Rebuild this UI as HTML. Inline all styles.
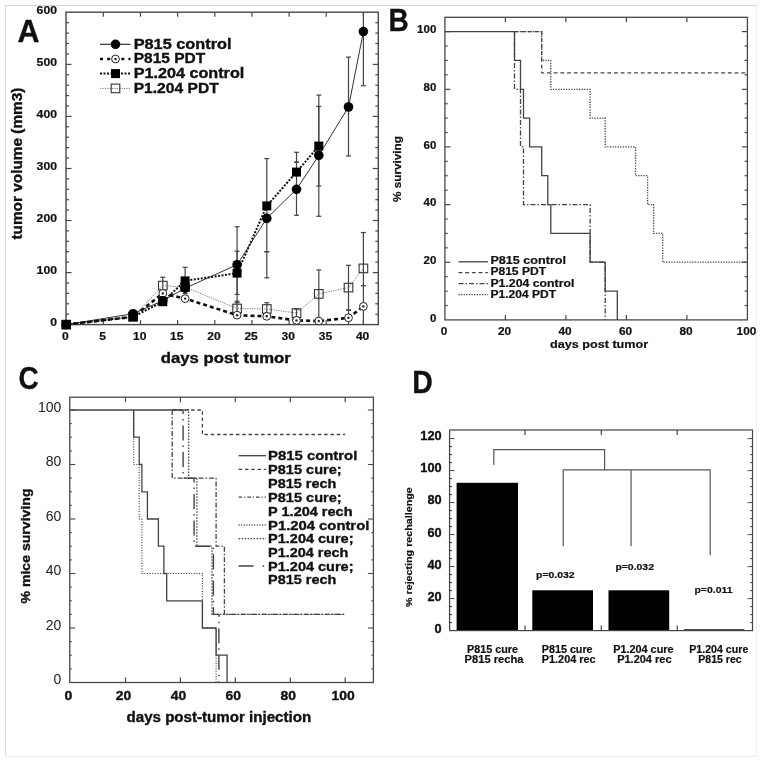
<!DOCTYPE html>
<html><head><meta charset="utf-8"><style>
html,body{margin:0;padding:0;background:#fff;}
svg{display:block;font-family:"Liberation Sans", sans-serif;filter:blur(0.35px);}
</style></head><body>
<svg width="762" height="762" viewBox="0 0 762 762">
<rect width="762" height="762" fill="#fff"/>
<line x1="5.0" y1="5.5" x2="758.0" y2="5.5" stroke="#d9d9d9" stroke-width="1" stroke-linecap="butt"/>
<line x1="5.5" y1="5.0" x2="5.5" y2="756.5" stroke="#dcdcdc" stroke-width="1" stroke-linecap="butt"/>
<line x1="756.5" y1="7.0" x2="756.5" y2="756.5" stroke="#efefef" stroke-width="1" stroke-linecap="butt"/>
<line x1="5.0" y1="756.5" x2="757.0" y2="756.5" stroke="#ececec" stroke-width="1" stroke-linecap="butt"/>
<line x1="103.3" y1="324.6" x2="103.3" y2="320.1" stroke="#484848" stroke-width="1.2" stroke-linecap="butt"/>
<line x1="103.3" y1="12.2" x2="103.3" y2="16.7" stroke="#484848" stroke-width="1.2" stroke-linecap="butt"/>
<line x1="140.5" y1="324.6" x2="140.5" y2="320.1" stroke="#484848" stroke-width="1.2" stroke-linecap="butt"/>
<line x1="140.5" y1="12.2" x2="140.5" y2="16.7" stroke="#484848" stroke-width="1.2" stroke-linecap="butt"/>
<line x1="177.6" y1="324.6" x2="177.6" y2="320.1" stroke="#484848" stroke-width="1.2" stroke-linecap="butt"/>
<line x1="177.6" y1="12.2" x2="177.6" y2="16.7" stroke="#484848" stroke-width="1.2" stroke-linecap="butt"/>
<line x1="214.8" y1="324.6" x2="214.8" y2="320.1" stroke="#484848" stroke-width="1.2" stroke-linecap="butt"/>
<line x1="214.8" y1="12.2" x2="214.8" y2="16.7" stroke="#484848" stroke-width="1.2" stroke-linecap="butt"/>
<line x1="251.9" y1="324.6" x2="251.9" y2="320.1" stroke="#484848" stroke-width="1.2" stroke-linecap="butt"/>
<line x1="251.9" y1="12.2" x2="251.9" y2="16.7" stroke="#484848" stroke-width="1.2" stroke-linecap="butt"/>
<line x1="289.1" y1="324.6" x2="289.1" y2="320.1" stroke="#484848" stroke-width="1.2" stroke-linecap="butt"/>
<line x1="289.1" y1="12.2" x2="289.1" y2="16.7" stroke="#484848" stroke-width="1.2" stroke-linecap="butt"/>
<line x1="326.2" y1="324.6" x2="326.2" y2="320.1" stroke="#484848" stroke-width="1.2" stroke-linecap="butt"/>
<line x1="326.2" y1="12.2" x2="326.2" y2="16.7" stroke="#484848" stroke-width="1.2" stroke-linecap="butt"/>
<line x1="363.4" y1="324.6" x2="363.4" y2="320.1" stroke="#484848" stroke-width="1.2" stroke-linecap="butt"/>
<line x1="363.4" y1="12.2" x2="363.4" y2="16.7" stroke="#484848" stroke-width="1.2" stroke-linecap="butt"/>
<line x1="66.0" y1="314.2" x2="69.0" y2="314.2" stroke="#484848" stroke-width="1.2" stroke-linecap="butt"/>
<line x1="378.3" y1="314.2" x2="375.3" y2="314.2" stroke="#484848" stroke-width="1.2" stroke-linecap="butt"/>
<line x1="66.0" y1="303.8" x2="69.0" y2="303.8" stroke="#484848" stroke-width="1.2" stroke-linecap="butt"/>
<line x1="378.3" y1="303.8" x2="375.3" y2="303.8" stroke="#484848" stroke-width="1.2" stroke-linecap="butt"/>
<line x1="66.0" y1="293.4" x2="69.0" y2="293.4" stroke="#484848" stroke-width="1.2" stroke-linecap="butt"/>
<line x1="378.3" y1="293.4" x2="375.3" y2="293.4" stroke="#484848" stroke-width="1.2" stroke-linecap="butt"/>
<line x1="66.0" y1="283.0" x2="69.0" y2="283.0" stroke="#484848" stroke-width="1.2" stroke-linecap="butt"/>
<line x1="378.3" y1="283.0" x2="375.3" y2="283.0" stroke="#484848" stroke-width="1.2" stroke-linecap="butt"/>
<line x1="66.0" y1="272.6" x2="71.5" y2="272.6" stroke="#484848" stroke-width="1.2" stroke-linecap="butt"/>
<line x1="378.3" y1="272.6" x2="372.8" y2="272.6" stroke="#484848" stroke-width="1.2" stroke-linecap="butt"/>
<line x1="66.0" y1="262.1" x2="69.0" y2="262.1" stroke="#484848" stroke-width="1.2" stroke-linecap="butt"/>
<line x1="378.3" y1="262.1" x2="375.3" y2="262.1" stroke="#484848" stroke-width="1.2" stroke-linecap="butt"/>
<line x1="66.0" y1="251.7" x2="69.0" y2="251.7" stroke="#484848" stroke-width="1.2" stroke-linecap="butt"/>
<line x1="378.3" y1="251.7" x2="375.3" y2="251.7" stroke="#484848" stroke-width="1.2" stroke-linecap="butt"/>
<line x1="66.0" y1="241.3" x2="69.0" y2="241.3" stroke="#484848" stroke-width="1.2" stroke-linecap="butt"/>
<line x1="378.3" y1="241.3" x2="375.3" y2="241.3" stroke="#484848" stroke-width="1.2" stroke-linecap="butt"/>
<line x1="66.0" y1="230.9" x2="69.0" y2="230.9" stroke="#484848" stroke-width="1.2" stroke-linecap="butt"/>
<line x1="378.3" y1="230.9" x2="375.3" y2="230.9" stroke="#484848" stroke-width="1.2" stroke-linecap="butt"/>
<line x1="66.0" y1="220.5" x2="71.5" y2="220.5" stroke="#484848" stroke-width="1.2" stroke-linecap="butt"/>
<line x1="378.3" y1="220.5" x2="372.8" y2="220.5" stroke="#484848" stroke-width="1.2" stroke-linecap="butt"/>
<line x1="66.0" y1="210.1" x2="69.0" y2="210.1" stroke="#484848" stroke-width="1.2" stroke-linecap="butt"/>
<line x1="378.3" y1="210.1" x2="375.3" y2="210.1" stroke="#484848" stroke-width="1.2" stroke-linecap="butt"/>
<line x1="66.0" y1="199.7" x2="69.0" y2="199.7" stroke="#484848" stroke-width="1.2" stroke-linecap="butt"/>
<line x1="378.3" y1="199.7" x2="375.3" y2="199.7" stroke="#484848" stroke-width="1.2" stroke-linecap="butt"/>
<line x1="66.0" y1="189.3" x2="69.0" y2="189.3" stroke="#484848" stroke-width="1.2" stroke-linecap="butt"/>
<line x1="378.3" y1="189.3" x2="375.3" y2="189.3" stroke="#484848" stroke-width="1.2" stroke-linecap="butt"/>
<line x1="66.0" y1="178.9" x2="69.0" y2="178.9" stroke="#484848" stroke-width="1.2" stroke-linecap="butt"/>
<line x1="378.3" y1="178.9" x2="375.3" y2="178.9" stroke="#484848" stroke-width="1.2" stroke-linecap="butt"/>
<line x1="66.0" y1="168.5" x2="71.5" y2="168.5" stroke="#484848" stroke-width="1.2" stroke-linecap="butt"/>
<line x1="378.3" y1="168.5" x2="372.8" y2="168.5" stroke="#484848" stroke-width="1.2" stroke-linecap="butt"/>
<line x1="66.0" y1="158.0" x2="69.0" y2="158.0" stroke="#484848" stroke-width="1.2" stroke-linecap="butt"/>
<line x1="378.3" y1="158.0" x2="375.3" y2="158.0" stroke="#484848" stroke-width="1.2" stroke-linecap="butt"/>
<line x1="66.0" y1="147.6" x2="69.0" y2="147.6" stroke="#484848" stroke-width="1.2" stroke-linecap="butt"/>
<line x1="378.3" y1="147.6" x2="375.3" y2="147.6" stroke="#484848" stroke-width="1.2" stroke-linecap="butt"/>
<line x1="66.0" y1="137.2" x2="69.0" y2="137.2" stroke="#484848" stroke-width="1.2" stroke-linecap="butt"/>
<line x1="378.3" y1="137.2" x2="375.3" y2="137.2" stroke="#484848" stroke-width="1.2" stroke-linecap="butt"/>
<line x1="66.0" y1="126.8" x2="69.0" y2="126.8" stroke="#484848" stroke-width="1.2" stroke-linecap="butt"/>
<line x1="378.3" y1="126.8" x2="375.3" y2="126.8" stroke="#484848" stroke-width="1.2" stroke-linecap="butt"/>
<line x1="66.0" y1="116.4" x2="71.5" y2="116.4" stroke="#484848" stroke-width="1.2" stroke-linecap="butt"/>
<line x1="378.3" y1="116.4" x2="372.8" y2="116.4" stroke="#484848" stroke-width="1.2" stroke-linecap="butt"/>
<line x1="66.0" y1="106.0" x2="69.0" y2="106.0" stroke="#484848" stroke-width="1.2" stroke-linecap="butt"/>
<line x1="378.3" y1="106.0" x2="375.3" y2="106.0" stroke="#484848" stroke-width="1.2" stroke-linecap="butt"/>
<line x1="66.0" y1="95.6" x2="69.0" y2="95.6" stroke="#484848" stroke-width="1.2" stroke-linecap="butt"/>
<line x1="378.3" y1="95.6" x2="375.3" y2="95.6" stroke="#484848" stroke-width="1.2" stroke-linecap="butt"/>
<line x1="66.0" y1="85.2" x2="69.0" y2="85.2" stroke="#484848" stroke-width="1.2" stroke-linecap="butt"/>
<line x1="378.3" y1="85.2" x2="375.3" y2="85.2" stroke="#484848" stroke-width="1.2" stroke-linecap="butt"/>
<line x1="66.0" y1="74.8" x2="69.0" y2="74.8" stroke="#484848" stroke-width="1.2" stroke-linecap="butt"/>
<line x1="378.3" y1="74.8" x2="375.3" y2="74.8" stroke="#484848" stroke-width="1.2" stroke-linecap="butt"/>
<line x1="66.0" y1="64.4" x2="71.5" y2="64.4" stroke="#484848" stroke-width="1.2" stroke-linecap="butt"/>
<line x1="378.3" y1="64.4" x2="372.8" y2="64.4" stroke="#484848" stroke-width="1.2" stroke-linecap="butt"/>
<line x1="66.0" y1="53.9" x2="69.0" y2="53.9" stroke="#484848" stroke-width="1.2" stroke-linecap="butt"/>
<line x1="378.3" y1="53.9" x2="375.3" y2="53.9" stroke="#484848" stroke-width="1.2" stroke-linecap="butt"/>
<line x1="66.0" y1="43.5" x2="69.0" y2="43.5" stroke="#484848" stroke-width="1.2" stroke-linecap="butt"/>
<line x1="378.3" y1="43.5" x2="375.3" y2="43.5" stroke="#484848" stroke-width="1.2" stroke-linecap="butt"/>
<line x1="66.0" y1="33.1" x2="69.0" y2="33.1" stroke="#484848" stroke-width="1.2" stroke-linecap="butt"/>
<line x1="378.3" y1="33.1" x2="375.3" y2="33.1" stroke="#484848" stroke-width="1.2" stroke-linecap="butt"/>
<line x1="66.0" y1="22.7" x2="69.0" y2="22.7" stroke="#484848" stroke-width="1.2" stroke-linecap="butt"/>
<line x1="378.3" y1="22.7" x2="375.3" y2="22.7" stroke="#484848" stroke-width="1.2" stroke-linecap="butt"/>
<rect x="66.0" y="12.2" width="312.3" height="312.4" fill="none" stroke="#484848" stroke-width="1.4"/>
<text x="57.0" y="326.4" font-size="10.8" font-weight="bold" text-anchor="end" fill="#111" textLength="6.8" lengthAdjust="spacingAndGlyphs" stroke="#111" stroke-width="0.2">0</text>
<text x="57.0" y="274.4" font-size="10.8" font-weight="bold" text-anchor="end" fill="#111" textLength="20.4" lengthAdjust="spacingAndGlyphs" stroke="#111" stroke-width="0.2">100</text>
<text x="57.0" y="222.3" font-size="10.8" font-weight="bold" text-anchor="end" fill="#111" textLength="20.4" lengthAdjust="spacingAndGlyphs" stroke="#111" stroke-width="0.2">200</text>
<text x="57.0" y="170.3" font-size="10.8" font-weight="bold" text-anchor="end" fill="#111" textLength="20.4" lengthAdjust="spacingAndGlyphs" stroke="#111" stroke-width="0.2">300</text>
<text x="57.0" y="118.2" font-size="10.8" font-weight="bold" text-anchor="end" fill="#111" textLength="20.4" lengthAdjust="spacingAndGlyphs" stroke="#111" stroke-width="0.2">400</text>
<text x="57.0" y="66.2" font-size="10.8" font-weight="bold" text-anchor="end" fill="#111" textLength="20.4" lengthAdjust="spacingAndGlyphs" stroke="#111" stroke-width="0.2">500</text>
<text x="57.0" y="14.1" font-size="10.8" font-weight="bold" text-anchor="end" fill="#111" textLength="20.4" lengthAdjust="spacingAndGlyphs" stroke="#111" stroke-width="0.2">600</text>
<text x="65.4" y="339.6" font-size="10.8" font-weight="bold" text-anchor="middle" fill="#111" textLength="6.7" lengthAdjust="spacingAndGlyphs" stroke="#111" stroke-width="0.2">0</text>
<text x="102.5" y="339.6" font-size="10.8" font-weight="bold" text-anchor="middle" fill="#111" textLength="6.7" lengthAdjust="spacingAndGlyphs" stroke="#111" stroke-width="0.2">5</text>
<text x="139.7" y="339.6" font-size="10.8" font-weight="bold" text-anchor="middle" fill="#111" textLength="13.4" lengthAdjust="spacingAndGlyphs" stroke="#111" stroke-width="0.2">10</text>
<text x="176.8" y="339.6" font-size="10.8" font-weight="bold" text-anchor="middle" fill="#111" textLength="13.4" lengthAdjust="spacingAndGlyphs" stroke="#111" stroke-width="0.2">15</text>
<text x="214.0" y="339.6" font-size="10.8" font-weight="bold" text-anchor="middle" fill="#111" textLength="13.4" lengthAdjust="spacingAndGlyphs" stroke="#111" stroke-width="0.2">20</text>
<text x="251.1" y="339.6" font-size="10.8" font-weight="bold" text-anchor="middle" fill="#111" textLength="13.4" lengthAdjust="spacingAndGlyphs" stroke="#111" stroke-width="0.2">25</text>
<text x="288.3" y="339.6" font-size="10.8" font-weight="bold" text-anchor="middle" fill="#111" textLength="13.4" lengthAdjust="spacingAndGlyphs" stroke="#111" stroke-width="0.2">30</text>
<text x="325.4" y="339.6" font-size="10.8" font-weight="bold" text-anchor="middle" fill="#111" textLength="13.4" lengthAdjust="spacingAndGlyphs" stroke="#111" stroke-width="0.2">35</text>
<text x="362.6" y="339.6" font-size="10.8" font-weight="bold" text-anchor="middle" fill="#111" textLength="13.4" lengthAdjust="spacingAndGlyphs" stroke="#111" stroke-width="0.2">40</text>
<text x="160.8" y="362.6" font-size="14" font-weight="bold" text-anchor="start" fill="#111" textLength="130.0" lengthAdjust="spacingAndGlyphs" stroke="#111" stroke-width="0.35">days post tumor</text>
<text x="22.0" y="239.6" font-size="14.5" font-weight="bold" text-anchor="start" fill="#111" textLength="152.0" lengthAdjust="spacingAndGlyphs" transform="rotate(-90 22.0 239.6)" stroke="#111" stroke-width="0.35">tumor volume (mm3)</text>
<text x="17.5" y="42.0" font-size="31" font-weight="bold" text-anchor="start" fill="#111" textLength="22.0" lengthAdjust="spacingAndGlyphs" stroke="#111" stroke-width="0.35">A</text>
<line x1="162.8" y1="301.2" x2="162.8" y2="277.2" stroke="#444" stroke-width="1.2" stroke-linecap="butt"/>
<line x1="160.3" y1="301.2" x2="165.3" y2="301.2" stroke="#444" stroke-width="1.2" stroke-linecap="butt"/>
<line x1="160.3" y1="277.2" x2="165.3" y2="277.2" stroke="#444" stroke-width="1.2" stroke-linecap="butt"/>
<line x1="185.1" y1="293.4" x2="185.1" y2="267.3" stroke="#444" stroke-width="1.2" stroke-linecap="butt"/>
<line x1="182.6" y1="293.4" x2="187.6" y2="293.4" stroke="#444" stroke-width="1.2" stroke-linecap="butt"/>
<line x1="182.6" y1="267.3" x2="187.6" y2="267.3" stroke="#444" stroke-width="1.2" stroke-linecap="butt"/>
<line x1="237.1" y1="302.7" x2="237.1" y2="226.7" stroke="#444" stroke-width="1.2" stroke-linecap="butt"/>
<line x1="234.6" y1="302.7" x2="239.6" y2="302.7" stroke="#444" stroke-width="1.2" stroke-linecap="butt"/>
<line x1="234.6" y1="226.7" x2="239.6" y2="226.7" stroke="#444" stroke-width="1.2" stroke-linecap="butt"/>
<line x1="237.1" y1="294.4" x2="237.1" y2="251.2" stroke="#444" stroke-width="1.2" stroke-linecap="butt"/>
<line x1="234.6" y1="294.4" x2="239.6" y2="294.4" stroke="#444" stroke-width="1.2" stroke-linecap="butt"/>
<line x1="234.6" y1="251.2" x2="239.6" y2="251.2" stroke="#444" stroke-width="1.2" stroke-linecap="butt"/>
<line x1="266.8" y1="277.8" x2="266.8" y2="158.6" stroke="#444" stroke-width="1.2" stroke-linecap="butt"/>
<line x1="264.3" y1="277.8" x2="269.3" y2="277.8" stroke="#444" stroke-width="1.2" stroke-linecap="butt"/>
<line x1="264.3" y1="158.6" x2="269.3" y2="158.6" stroke="#444" stroke-width="1.2" stroke-linecap="butt"/>
<line x1="266.8" y1="251.7" x2="266.8" y2="251.7" stroke="#444" stroke-width="1.2" stroke-linecap="butt"/>
<line x1="264.3" y1="251.7" x2="269.3" y2="251.7" stroke="#444" stroke-width="1.2" stroke-linecap="butt"/>
<line x1="264.3" y1="251.7" x2="269.3" y2="251.7" stroke="#444" stroke-width="1.2" stroke-linecap="butt"/>
<line x1="296.5" y1="215.3" x2="296.5" y2="152.3" stroke="#444" stroke-width="1.2" stroke-linecap="butt"/>
<line x1="294.0" y1="215.3" x2="299.0" y2="215.3" stroke="#444" stroke-width="1.2" stroke-linecap="butt"/>
<line x1="294.0" y1="152.3" x2="299.0" y2="152.3" stroke="#444" stroke-width="1.2" stroke-linecap="butt"/>
<line x1="296.5" y1="162.2" x2="296.5" y2="162.2" stroke="#444" stroke-width="1.2" stroke-linecap="butt"/>
<line x1="294.0" y1="162.2" x2="299.0" y2="162.2" stroke="#444" stroke-width="1.2" stroke-linecap="butt"/>
<line x1="294.0" y1="162.2" x2="299.0" y2="162.2" stroke="#444" stroke-width="1.2" stroke-linecap="butt"/>
<line x1="318.8" y1="216.3" x2="318.8" y2="95.1" stroke="#444" stroke-width="1.2" stroke-linecap="butt"/>
<line x1="316.3" y1="216.3" x2="321.3" y2="216.3" stroke="#444" stroke-width="1.2" stroke-linecap="butt"/>
<line x1="316.3" y1="95.1" x2="321.3" y2="95.1" stroke="#444" stroke-width="1.2" stroke-linecap="butt"/>
<line x1="318.8" y1="186.1" x2="318.8" y2="106.5" stroke="#444" stroke-width="1.2" stroke-linecap="butt"/>
<line x1="316.3" y1="186.1" x2="321.3" y2="186.1" stroke="#444" stroke-width="1.2" stroke-linecap="butt"/>
<line x1="316.3" y1="106.5" x2="321.3" y2="106.5" stroke="#444" stroke-width="1.2" stroke-linecap="butt"/>
<line x1="348.5" y1="156.0" x2="348.5" y2="57.1" stroke="#444" stroke-width="1.2" stroke-linecap="butt"/>
<line x1="346.0" y1="156.0" x2="351.0" y2="156.0" stroke="#444" stroke-width="1.2" stroke-linecap="butt"/>
<line x1="346.0" y1="57.1" x2="351.0" y2="57.1" stroke="#444" stroke-width="1.2" stroke-linecap="butt"/>
<line x1="363.4" y1="85.7" x2="363.4" y2="12.2" stroke="#444" stroke-width="1.2" stroke-linecap="butt"/>
<line x1="360.9" y1="85.7" x2="365.9" y2="85.7" stroke="#444" stroke-width="1.2" stroke-linecap="butt"/>
<line x1="318.8" y1="324.6" x2="318.8" y2="269.9" stroke="#444" stroke-width="1.2" stroke-linecap="butt"/>
<line x1="316.3" y1="269.9" x2="321.3" y2="269.9" stroke="#444" stroke-width="1.2" stroke-linecap="butt"/>
<line x1="348.5" y1="324.6" x2="348.5" y2="265.3" stroke="#444" stroke-width="1.2" stroke-linecap="butt"/>
<line x1="346.0" y1="265.3" x2="351.0" y2="265.3" stroke="#444" stroke-width="1.2" stroke-linecap="butt"/>
<line x1="363.4" y1="324.6" x2="363.4" y2="232.5" stroke="#444" stroke-width="1.2" stroke-linecap="butt"/>
<line x1="360.9" y1="232.5" x2="365.9" y2="232.5" stroke="#444" stroke-width="1.2" stroke-linecap="butt"/>
<line x1="363.4" y1="285.6" x2="363.4" y2="285.6" stroke="#444" stroke-width="1.2" stroke-linecap="butt"/>
<line x1="360.9" y1="285.6" x2="365.9" y2="285.6" stroke="#444" stroke-width="1.2" stroke-linecap="butt"/>
<line x1="360.9" y1="285.6" x2="365.9" y2="285.6" stroke="#444" stroke-width="1.2" stroke-linecap="butt"/>
<line x1="348.5" y1="310.0" x2="348.5" y2="310.0" stroke="#444" stroke-width="1.2" stroke-linecap="butt"/>
<line x1="346.0" y1="310.0" x2="351.0" y2="310.0" stroke="#444" stroke-width="1.2" stroke-linecap="butt"/>
<line x1="346.0" y1="310.0" x2="351.0" y2="310.0" stroke="#444" stroke-width="1.2" stroke-linecap="butt"/>
<line x1="237.1" y1="314.2" x2="237.1" y2="301.2" stroke="#444" stroke-width="1.2" stroke-linecap="butt"/>
<line x1="234.6" y1="314.2" x2="239.6" y2="314.2" stroke="#444" stroke-width="1.2" stroke-linecap="butt"/>
<line x1="234.6" y1="301.2" x2="239.6" y2="301.2" stroke="#444" stroke-width="1.2" stroke-linecap="butt"/>
<line x1="266.8" y1="314.2" x2="266.8" y2="302.7" stroke="#444" stroke-width="1.2" stroke-linecap="butt"/>
<line x1="264.3" y1="314.2" x2="269.3" y2="314.2" stroke="#444" stroke-width="1.2" stroke-linecap="butt"/>
<line x1="264.3" y1="302.7" x2="269.3" y2="302.7" stroke="#444" stroke-width="1.2" stroke-linecap="butt"/>
<line x1="296.5" y1="318.4" x2="296.5" y2="309.0" stroke="#444" stroke-width="1.2" stroke-linecap="butt"/>
<line x1="294.0" y1="318.4" x2="299.0" y2="318.4" stroke="#444" stroke-width="1.2" stroke-linecap="butt"/>
<line x1="294.0" y1="309.0" x2="299.0" y2="309.0" stroke="#444" stroke-width="1.2" stroke-linecap="butt"/>
<polyline points="66.2,324.6 133.1,316.8 162.8,285.6 185.1,287.1 237.1,308.5 266.8,309.0 296.5,313.1 318.8,293.9 348.5,287.6 363.4,268.4" fill="none" stroke="#777" stroke-width="1" stroke-dasharray="1.2,1.2"/>
<polyline points="66.2,324.6 133.1,313.7 162.8,300.7 185.1,288.2 237.1,264.7 266.8,218.4 296.5,189.3 318.8,155.4 348.5,107.0 363.4,31.6" fill="none" stroke="#333" stroke-width="1"/>
<polyline points="66.2,324.6 133.1,316.8 162.8,293.4 185.1,298.6 237.1,315.2 266.8,316.3 296.5,320.4 318.8,321.0 348.5,317.8 363.4,306.4" fill="none" stroke="#111" stroke-width="2.6" stroke-dasharray="4,3"/>
<polyline points="66.2,324.6 133.1,316.8 162.8,301.7 185.1,280.9 237.1,273.1 266.8,205.9 296.5,172.1 318.8,146.1" fill="none" stroke="#111" stroke-width="2.0" stroke-dasharray="2,1.5"/>
<rect x="61.9" y="320.3" width="8.6" height="8.6" fill="none" stroke="#333" stroke-width="1.1"/>
<rect x="128.8" y="312.5" width="8.6" height="8.6" fill="none" stroke="#333" stroke-width="1.1"/>
<rect x="158.5" y="281.3" width="8.6" height="8.6" fill="none" stroke="#333" stroke-width="1.1"/>
<rect x="180.8" y="282.8" width="8.6" height="8.6" fill="none" stroke="#333" stroke-width="1.1"/>
<rect x="232.8" y="304.2" width="8.6" height="8.6" fill="none" stroke="#333" stroke-width="1.1"/>
<rect x="262.5" y="304.7" width="8.6" height="8.6" fill="none" stroke="#333" stroke-width="1.1"/>
<rect x="292.2" y="308.8" width="8.6" height="8.6" fill="none" stroke="#333" stroke-width="1.1"/>
<rect x="314.5" y="289.6" width="8.6" height="8.6" fill="none" stroke="#333" stroke-width="1.1"/>
<rect x="344.2" y="283.3" width="8.6" height="8.6" fill="none" stroke="#333" stroke-width="1.1"/>
<rect x="359.1" y="264.1" width="8.6" height="8.6" fill="none" stroke="#333" stroke-width="1.1"/>
<circle cx="66.2" cy="324.6" r="3.9" fill="#fff" stroke="#222" stroke-width="1"/>
<circle cx="66.2" cy="324.6" r="1.2" fill="#222"/>
<circle cx="133.1" cy="316.8" r="3.9" fill="#fff" stroke="#222" stroke-width="1"/>
<circle cx="133.1" cy="316.8" r="1.2" fill="#222"/>
<circle cx="162.8" cy="293.4" r="3.9" fill="#fff" stroke="#222" stroke-width="1"/>
<circle cx="162.8" cy="293.4" r="1.2" fill="#222"/>
<circle cx="185.1" cy="298.6" r="3.9" fill="#fff" stroke="#222" stroke-width="1"/>
<circle cx="185.1" cy="298.6" r="1.2" fill="#222"/>
<circle cx="237.1" cy="315.2" r="3.9" fill="#fff" stroke="#222" stroke-width="1"/>
<circle cx="237.1" cy="315.2" r="1.2" fill="#222"/>
<circle cx="266.8" cy="316.3" r="3.9" fill="#fff" stroke="#222" stroke-width="1"/>
<circle cx="266.8" cy="316.3" r="1.2" fill="#222"/>
<circle cx="296.5" cy="320.4" r="3.9" fill="#fff" stroke="#222" stroke-width="1"/>
<circle cx="296.5" cy="320.4" r="1.2" fill="#222"/>
<circle cx="318.8" cy="321.0" r="3.9" fill="#fff" stroke="#222" stroke-width="1"/>
<circle cx="318.8" cy="321.0" r="1.2" fill="#222"/>
<circle cx="348.5" cy="317.8" r="3.9" fill="#fff" stroke="#222" stroke-width="1"/>
<circle cx="348.5" cy="317.8" r="1.2" fill="#222"/>
<circle cx="363.4" cy="306.4" r="3.9" fill="#fff" stroke="#222" stroke-width="1"/>
<circle cx="363.4" cy="306.4" r="1.2" fill="#222"/>
<rect x="61.7" y="320.1" width="9.0" height="9.0" fill="#000" stroke="none" stroke-width="1"/>
<rect x="128.6" y="312.3" width="9.0" height="9.0" fill="#000" stroke="none" stroke-width="1"/>
<rect x="158.3" y="297.2" width="9.0" height="9.0" fill="#000" stroke="none" stroke-width="1"/>
<rect x="180.6" y="276.4" width="9.0" height="9.0" fill="#000" stroke="none" stroke-width="1"/>
<rect x="232.6" y="268.6" width="9.0" height="9.0" fill="#000" stroke="none" stroke-width="1"/>
<rect x="262.3" y="201.4" width="9.0" height="9.0" fill="#000" stroke="none" stroke-width="1"/>
<rect x="292.0" y="167.6" width="9.0" height="9.0" fill="#000" stroke="none" stroke-width="1"/>
<rect x="314.3" y="141.6" width="9.0" height="9.0" fill="#000" stroke="none" stroke-width="1"/>
<circle cx="66.2" cy="324.6" r="4.8" fill="#000"/>
<circle cx="133.1" cy="313.7" r="4.8" fill="#000"/>
<circle cx="162.8" cy="300.7" r="4.8" fill="#000"/>
<circle cx="185.1" cy="288.2" r="4.8" fill="#000"/>
<circle cx="237.1" cy="264.7" r="4.8" fill="#000"/>
<circle cx="266.8" cy="218.4" r="4.8" fill="#000"/>
<circle cx="296.5" cy="189.3" r="4.8" fill="#000"/>
<circle cx="318.8" cy="155.4" r="4.8" fill="#000"/>
<circle cx="348.5" cy="107.0" r="4.8" fill="#000"/>
<circle cx="363.4" cy="31.6" r="4.8" fill="#000"/>
<line x1="100.0" y1="44.3" x2="130.5" y2="44.3" stroke="#222" stroke-width="1.1" stroke-linecap="butt"/>
<circle cx="115.5" cy="44.3" r="4.8" fill="#000"/>
<line x1="100.0" y1="59.0" x2="130.5" y2="59.0" stroke="#111" stroke-width="2.5" stroke-dasharray="3,4.1" stroke-linecap="butt"/>
<circle cx="115.5" cy="59.0" r="3.9" fill="#fff" stroke="#222" stroke-width="1"/>
<circle cx="115.5" cy="59.0" r="1.2" fill="#222"/>
<line x1="100.0" y1="73.6" x2="130.5" y2="73.6" stroke="#111" stroke-width="2.0" stroke-dasharray="2,1.5" stroke-linecap="butt"/>
<rect x="111.0" y="69.1" width="9.0" height="9.0" fill="#000" stroke="none" stroke-width="1"/>
<line x1="100.0" y1="88.4" x2="130.5" y2="88.4" stroke="#777" stroke-width="1" stroke-dasharray="1.2,1.2" stroke-linecap="butt"/>
<rect x="111.2" y="84.1" width="8.6" height="8.6" fill="none" stroke="#333" stroke-width="1.1"/>
<text x="133.7" y="49.0" font-size="14" font-weight="bold" text-anchor="start" fill="#111" textLength="97.8" lengthAdjust="spacingAndGlyphs" stroke="#111" stroke-width="0.35">P815 control</text>
<text x="133.7" y="63.4" font-size="14" font-weight="bold" text-anchor="start" fill="#111" textLength="71.6" lengthAdjust="spacingAndGlyphs" stroke="#111" stroke-width="0.35">P815 PDT</text>
<text x="133.7" y="78.0" font-size="14" font-weight="bold" text-anchor="start" fill="#111" textLength="110.6" lengthAdjust="spacingAndGlyphs" stroke="#111" stroke-width="0.35">P1.204 control</text>
<text x="133.7" y="93.2" font-size="14" font-weight="bold" text-anchor="start" fill="#111" textLength="85.0" lengthAdjust="spacingAndGlyphs" stroke="#111" stroke-width="0.35">P1.204 PDT</text>
<line x1="505.4" y1="319.9" x2="505.4" y2="314.9" stroke="#484848" stroke-width="1.2" stroke-linecap="butt"/>
<line x1="505.4" y1="17.3" x2="505.4" y2="22.3" stroke="#484848" stroke-width="1.2" stroke-linecap="butt"/>
<line x1="565.9" y1="319.9" x2="565.9" y2="314.9" stroke="#484848" stroke-width="1.2" stroke-linecap="butt"/>
<line x1="565.9" y1="17.3" x2="565.9" y2="22.3" stroke="#484848" stroke-width="1.2" stroke-linecap="butt"/>
<line x1="626.4" y1="319.9" x2="626.4" y2="314.9" stroke="#484848" stroke-width="1.2" stroke-linecap="butt"/>
<line x1="626.4" y1="17.3" x2="626.4" y2="22.3" stroke="#484848" stroke-width="1.2" stroke-linecap="butt"/>
<line x1="686.9" y1="319.9" x2="686.9" y2="314.9" stroke="#484848" stroke-width="1.2" stroke-linecap="butt"/>
<line x1="686.9" y1="17.3" x2="686.9" y2="22.3" stroke="#484848" stroke-width="1.2" stroke-linecap="butt"/>
<line x1="444.9" y1="305.5" x2="447.7" y2="305.5" stroke="#484848" stroke-width="1.2" stroke-linecap="butt"/>
<line x1="747.4" y1="305.5" x2="744.6" y2="305.5" stroke="#484848" stroke-width="1.2" stroke-linecap="butt"/>
<line x1="444.9" y1="291.1" x2="447.7" y2="291.1" stroke="#484848" stroke-width="1.2" stroke-linecap="butt"/>
<line x1="747.4" y1="291.1" x2="744.6" y2="291.1" stroke="#484848" stroke-width="1.2" stroke-linecap="butt"/>
<line x1="444.9" y1="276.7" x2="447.7" y2="276.7" stroke="#484848" stroke-width="1.2" stroke-linecap="butt"/>
<line x1="747.4" y1="276.7" x2="744.6" y2="276.7" stroke="#484848" stroke-width="1.2" stroke-linecap="butt"/>
<line x1="444.9" y1="262.2" x2="450.4" y2="262.2" stroke="#484848" stroke-width="1.2" stroke-linecap="butt"/>
<line x1="747.4" y1="262.2" x2="741.9" y2="262.2" stroke="#484848" stroke-width="1.2" stroke-linecap="butt"/>
<line x1="444.9" y1="247.8" x2="447.7" y2="247.8" stroke="#484848" stroke-width="1.2" stroke-linecap="butt"/>
<line x1="747.4" y1="247.8" x2="744.6" y2="247.8" stroke="#484848" stroke-width="1.2" stroke-linecap="butt"/>
<line x1="444.9" y1="233.4" x2="447.7" y2="233.4" stroke="#484848" stroke-width="1.2" stroke-linecap="butt"/>
<line x1="747.4" y1="233.4" x2="744.6" y2="233.4" stroke="#484848" stroke-width="1.2" stroke-linecap="butt"/>
<line x1="444.9" y1="219.0" x2="447.7" y2="219.0" stroke="#484848" stroke-width="1.2" stroke-linecap="butt"/>
<line x1="747.4" y1="219.0" x2="744.6" y2="219.0" stroke="#484848" stroke-width="1.2" stroke-linecap="butt"/>
<line x1="444.9" y1="204.6" x2="450.4" y2="204.6" stroke="#484848" stroke-width="1.2" stroke-linecap="butt"/>
<line x1="747.4" y1="204.6" x2="741.9" y2="204.6" stroke="#484848" stroke-width="1.2" stroke-linecap="butt"/>
<line x1="444.9" y1="190.2" x2="447.7" y2="190.2" stroke="#484848" stroke-width="1.2" stroke-linecap="butt"/>
<line x1="747.4" y1="190.2" x2="744.6" y2="190.2" stroke="#484848" stroke-width="1.2" stroke-linecap="butt"/>
<line x1="444.9" y1="175.7" x2="447.7" y2="175.7" stroke="#484848" stroke-width="1.2" stroke-linecap="butt"/>
<line x1="747.4" y1="175.7" x2="744.6" y2="175.7" stroke="#484848" stroke-width="1.2" stroke-linecap="butt"/>
<line x1="444.9" y1="161.3" x2="447.7" y2="161.3" stroke="#484848" stroke-width="1.2" stroke-linecap="butt"/>
<line x1="747.4" y1="161.3" x2="744.6" y2="161.3" stroke="#484848" stroke-width="1.2" stroke-linecap="butt"/>
<line x1="444.9" y1="146.9" x2="450.4" y2="146.9" stroke="#484848" stroke-width="1.2" stroke-linecap="butt"/>
<line x1="747.4" y1="146.9" x2="741.9" y2="146.9" stroke="#484848" stroke-width="1.2" stroke-linecap="butt"/>
<line x1="444.9" y1="132.5" x2="447.7" y2="132.5" stroke="#484848" stroke-width="1.2" stroke-linecap="butt"/>
<line x1="747.4" y1="132.5" x2="744.6" y2="132.5" stroke="#484848" stroke-width="1.2" stroke-linecap="butt"/>
<line x1="444.9" y1="118.1" x2="447.7" y2="118.1" stroke="#484848" stroke-width="1.2" stroke-linecap="butt"/>
<line x1="747.4" y1="118.1" x2="744.6" y2="118.1" stroke="#484848" stroke-width="1.2" stroke-linecap="butt"/>
<line x1="444.9" y1="103.7" x2="447.7" y2="103.7" stroke="#484848" stroke-width="1.2" stroke-linecap="butt"/>
<line x1="747.4" y1="103.7" x2="744.6" y2="103.7" stroke="#484848" stroke-width="1.2" stroke-linecap="butt"/>
<line x1="444.9" y1="89.3" x2="450.4" y2="89.3" stroke="#484848" stroke-width="1.2" stroke-linecap="butt"/>
<line x1="747.4" y1="89.3" x2="741.9" y2="89.3" stroke="#484848" stroke-width="1.2" stroke-linecap="butt"/>
<line x1="444.9" y1="74.8" x2="447.7" y2="74.8" stroke="#484848" stroke-width="1.2" stroke-linecap="butt"/>
<line x1="747.4" y1="74.8" x2="744.6" y2="74.8" stroke="#484848" stroke-width="1.2" stroke-linecap="butt"/>
<line x1="444.9" y1="60.4" x2="447.7" y2="60.4" stroke="#484848" stroke-width="1.2" stroke-linecap="butt"/>
<line x1="747.4" y1="60.4" x2="744.6" y2="60.4" stroke="#484848" stroke-width="1.2" stroke-linecap="butt"/>
<line x1="444.9" y1="46.0" x2="447.7" y2="46.0" stroke="#484848" stroke-width="1.2" stroke-linecap="butt"/>
<line x1="747.4" y1="46.0" x2="744.6" y2="46.0" stroke="#484848" stroke-width="1.2" stroke-linecap="butt"/>
<line x1="444.9" y1="31.6" x2="450.4" y2="31.6" stroke="#484848" stroke-width="1.2" stroke-linecap="butt"/>
<line x1="747.4" y1="31.6" x2="741.9" y2="31.6" stroke="#484848" stroke-width="1.2" stroke-linecap="butt"/>
<rect x="444.9" y="17.3" width="302.5" height="302.6" fill="none" stroke="#484848" stroke-width="1.3"/>
<text x="436.3" y="321.7" font-size="10.6" font-weight="bold" text-anchor="end" fill="#111" textLength="6.4" lengthAdjust="spacingAndGlyphs" stroke="#111" stroke-width="0.2">0</text>
<text x="436.3" y="264.0" font-size="10.6" font-weight="bold" text-anchor="end" fill="#111" textLength="12.8" lengthAdjust="spacingAndGlyphs" stroke="#111" stroke-width="0.2">20</text>
<text x="436.3" y="206.4" font-size="10.6" font-weight="bold" text-anchor="end" fill="#111" textLength="12.8" lengthAdjust="spacingAndGlyphs" stroke="#111" stroke-width="0.2">40</text>
<text x="436.3" y="148.7" font-size="10.6" font-weight="bold" text-anchor="end" fill="#111" textLength="12.8" lengthAdjust="spacingAndGlyphs" stroke="#111" stroke-width="0.2">60</text>
<text x="436.3" y="91.1" font-size="10.6" font-weight="bold" text-anchor="end" fill="#111" textLength="12.8" lengthAdjust="spacingAndGlyphs" stroke="#111" stroke-width="0.2">80</text>
<text x="436.3" y="33.4" font-size="10.6" font-weight="bold" text-anchor="end" fill="#111" textLength="19.2" lengthAdjust="spacingAndGlyphs" stroke="#111" stroke-width="0.2">100</text>
<text x="444.0" y="334.5" font-size="10.8" font-weight="bold" text-anchor="middle" fill="#111" textLength="6.6" lengthAdjust="spacingAndGlyphs" stroke="#111" stroke-width="0.2">0</text>
<text x="504.5" y="334.5" font-size="10.8" font-weight="bold" text-anchor="middle" fill="#111" textLength="13.2" lengthAdjust="spacingAndGlyphs" stroke="#111" stroke-width="0.2">20</text>
<text x="565.0" y="334.5" font-size="10.8" font-weight="bold" text-anchor="middle" fill="#111" textLength="13.2" lengthAdjust="spacingAndGlyphs" stroke="#111" stroke-width="0.2">40</text>
<text x="625.5" y="334.5" font-size="10.8" font-weight="bold" text-anchor="middle" fill="#111" textLength="13.2" lengthAdjust="spacingAndGlyphs" stroke="#111" stroke-width="0.2">60</text>
<text x="686.0" y="334.5" font-size="10.8" font-weight="bold" text-anchor="middle" fill="#111" textLength="13.2" lengthAdjust="spacingAndGlyphs" stroke="#111" stroke-width="0.2">80</text>
<text x="746.5" y="334.5" font-size="10.8" font-weight="bold" text-anchor="middle" fill="#111" textLength="19.8" lengthAdjust="spacingAndGlyphs" stroke="#111" stroke-width="0.2">100</text>
<text x="550.1" y="348.3" font-size="11" font-weight="bold" text-anchor="start" fill="#111" textLength="98.0" lengthAdjust="spacingAndGlyphs" stroke="#111" stroke-width="0.2">days post tumor</text>
<text x="400.8" y="202.0" font-size="11.5" font-weight="bold" text-anchor="start" fill="#111" textLength="66.0" lengthAdjust="spacingAndGlyphs" transform="rotate(-90 400.8 202.0)" stroke="#111" stroke-width="0.2">% surviving</text>
<text x="388.6" y="31.2" font-size="30.5" font-weight="bold" text-anchor="start" fill="#111" textLength="20.2" lengthAdjust="spacingAndGlyphs" stroke="#111" stroke-width="0.35">B</text>
<line x1="444.9" y1="31.6" x2="514.5" y2="31.6" stroke="#444" stroke-width="1.3" stroke-linecap="butt"/>
<polyline points="514.5,31.6 514.5,31.6 514.5,60.4 520.5,60.4 520.5,89.3 523.5,89.3 523.5,118.1 529.6,118.1 529.6,146.9 541.7,146.9 541.7,175.7 547.8,175.7 547.8,204.6 550.8,204.6 550.8,233.4 590.1,233.4 590.1,262.2 605.2,262.2 605.2,291.1 617.3,291.1 617.3,319.9" fill="none" stroke="#444" stroke-width="1.3"/>
<polyline points="514.5,31.6 541.7,31.6 541.7,72.8 747.4,72.8" fill="none" stroke="#444" stroke-width="1.3" stroke-dasharray="3.8,2.9"/>
<polyline points="514.5,31.6 514.5,31.6 514.5,89.3 520.5,89.3 520.5,146.9 523.5,146.9 523.5,204.6 590.1,204.6 590.1,262.2 605.2,262.2 605.2,319.9" fill="none" stroke="#444" stroke-width="1.3" stroke-dasharray="5,2,1.5,2"/>
<polyline points="514.5,31.6 541.7,31.6 541.7,60.4 550.8,60.4 550.8,89.3 590.1,89.3 590.1,118.1 605.2,118.1 605.2,146.9 635.5,146.9 635.5,175.7 647.6,175.7 647.6,204.6 653.6,204.6 653.6,233.4 662.7,233.4 662.7,262.2 747.4,262.2" fill="none" stroke="#444" stroke-width="1.3" stroke-dasharray="1.3,1.3"/>
<line x1="458.5" y1="261.8" x2="487.9" y2="261.8" stroke="#444" stroke-width="1.3" stroke-linecap="butt"/>
<text x="490.4" y="264.3" font-size="10.5" font-weight="bold" text-anchor="start" fill="#111" textLength="75.6" lengthAdjust="spacingAndGlyphs" stroke="#111" stroke-width="0.2">P815 control</text>
<line x1="458.5" y1="272.6" x2="487.9" y2="272.6" stroke="#444" stroke-width="1.3" stroke-dasharray="3.8,2.9" stroke-linecap="butt"/>
<text x="490.4" y="275.4" font-size="10.5" font-weight="bold" text-anchor="start" fill="#111" textLength="55.7" lengthAdjust="spacingAndGlyphs" stroke="#111" stroke-width="0.2">P815 PDT</text>
<line x1="458.5" y1="283.6" x2="487.9" y2="283.6" stroke="#444" stroke-width="1.3" stroke-dasharray="5,2,1.5,2" stroke-linecap="butt"/>
<text x="490.4" y="286.8" font-size="10.5" font-weight="bold" text-anchor="start" fill="#111" textLength="84.0" lengthAdjust="spacingAndGlyphs" stroke="#111" stroke-width="0.2">P1.204 control</text>
<line x1="458.5" y1="294.6" x2="487.9" y2="294.6" stroke="#444" stroke-width="1.3" stroke-dasharray="1.3,1.3" stroke-linecap="butt"/>
<text x="490.4" y="297.5" font-size="10.5" font-weight="bold" text-anchor="start" fill="#111" textLength="65.7" lengthAdjust="spacingAndGlyphs" stroke="#111" stroke-width="0.2">P1.204 PDT</text>
<line x1="125.5" y1="682.5" x2="125.5" y2="677.5" stroke="#484848" stroke-width="1.2" stroke-linecap="butt"/>
<line x1="125.5" y1="397.2" x2="125.5" y2="402.2" stroke="#484848" stroke-width="1.2" stroke-linecap="butt"/>
<line x1="180.4" y1="682.5" x2="180.4" y2="677.5" stroke="#484848" stroke-width="1.2" stroke-linecap="butt"/>
<line x1="180.4" y1="397.2" x2="180.4" y2="402.2" stroke="#484848" stroke-width="1.2" stroke-linecap="butt"/>
<line x1="235.3" y1="682.5" x2="235.3" y2="677.5" stroke="#484848" stroke-width="1.2" stroke-linecap="butt"/>
<line x1="235.3" y1="397.2" x2="235.3" y2="402.2" stroke="#484848" stroke-width="1.2" stroke-linecap="butt"/>
<line x1="290.3" y1="682.5" x2="290.3" y2="677.5" stroke="#484848" stroke-width="1.2" stroke-linecap="butt"/>
<line x1="290.3" y1="397.2" x2="290.3" y2="402.2" stroke="#484848" stroke-width="1.2" stroke-linecap="butt"/>
<line x1="345.2" y1="682.5" x2="345.2" y2="677.5" stroke="#484848" stroke-width="1.2" stroke-linecap="butt"/>
<line x1="345.2" y1="397.2" x2="345.2" y2="402.2" stroke="#484848" stroke-width="1.2" stroke-linecap="butt"/>
<line x1="69.8" y1="668.9" x2="71.8" y2="668.9" stroke="#484848" stroke-width="1.1" stroke-linecap="butt"/>
<line x1="373.4" y1="668.9" x2="371.4" y2="668.9" stroke="#484848" stroke-width="1.1" stroke-linecap="butt"/>
<line x1="69.8" y1="655.2" x2="71.8" y2="655.2" stroke="#484848" stroke-width="1.1" stroke-linecap="butt"/>
<line x1="373.4" y1="655.2" x2="371.4" y2="655.2" stroke="#484848" stroke-width="1.1" stroke-linecap="butt"/>
<line x1="69.8" y1="641.6" x2="71.8" y2="641.6" stroke="#484848" stroke-width="1.1" stroke-linecap="butt"/>
<line x1="373.4" y1="641.6" x2="371.4" y2="641.6" stroke="#484848" stroke-width="1.1" stroke-linecap="butt"/>
<line x1="69.8" y1="628.0" x2="75.3" y2="628.0" stroke="#484848" stroke-width="1.1" stroke-linecap="butt"/>
<line x1="373.4" y1="628.0" x2="367.9" y2="628.0" stroke="#484848" stroke-width="1.1" stroke-linecap="butt"/>
<line x1="69.8" y1="614.4" x2="71.8" y2="614.4" stroke="#484848" stroke-width="1.1" stroke-linecap="butt"/>
<line x1="373.4" y1="614.4" x2="371.4" y2="614.4" stroke="#484848" stroke-width="1.1" stroke-linecap="butt"/>
<line x1="69.8" y1="600.8" x2="71.8" y2="600.8" stroke="#484848" stroke-width="1.1" stroke-linecap="butt"/>
<line x1="373.4" y1="600.8" x2="371.4" y2="600.8" stroke="#484848" stroke-width="1.1" stroke-linecap="butt"/>
<line x1="69.8" y1="587.1" x2="71.8" y2="587.1" stroke="#484848" stroke-width="1.1" stroke-linecap="butt"/>
<line x1="373.4" y1="587.1" x2="371.4" y2="587.1" stroke="#484848" stroke-width="1.1" stroke-linecap="butt"/>
<line x1="69.8" y1="573.5" x2="75.3" y2="573.5" stroke="#484848" stroke-width="1.1" stroke-linecap="butt"/>
<line x1="373.4" y1="573.5" x2="367.9" y2="573.5" stroke="#484848" stroke-width="1.1" stroke-linecap="butt"/>
<line x1="69.8" y1="559.9" x2="71.8" y2="559.9" stroke="#484848" stroke-width="1.1" stroke-linecap="butt"/>
<line x1="373.4" y1="559.9" x2="371.4" y2="559.9" stroke="#484848" stroke-width="1.1" stroke-linecap="butt"/>
<line x1="69.8" y1="546.2" x2="71.8" y2="546.2" stroke="#484848" stroke-width="1.1" stroke-linecap="butt"/>
<line x1="373.4" y1="546.2" x2="371.4" y2="546.2" stroke="#484848" stroke-width="1.1" stroke-linecap="butt"/>
<line x1="69.8" y1="532.6" x2="71.8" y2="532.6" stroke="#484848" stroke-width="1.1" stroke-linecap="butt"/>
<line x1="373.4" y1="532.6" x2="371.4" y2="532.6" stroke="#484848" stroke-width="1.1" stroke-linecap="butt"/>
<line x1="69.8" y1="519.0" x2="75.3" y2="519.0" stroke="#484848" stroke-width="1.1" stroke-linecap="butt"/>
<line x1="373.4" y1="519.0" x2="367.9" y2="519.0" stroke="#484848" stroke-width="1.1" stroke-linecap="butt"/>
<line x1="69.8" y1="505.4" x2="71.8" y2="505.4" stroke="#484848" stroke-width="1.1" stroke-linecap="butt"/>
<line x1="373.4" y1="505.4" x2="371.4" y2="505.4" stroke="#484848" stroke-width="1.1" stroke-linecap="butt"/>
<line x1="69.8" y1="491.8" x2="71.8" y2="491.8" stroke="#484848" stroke-width="1.1" stroke-linecap="butt"/>
<line x1="373.4" y1="491.8" x2="371.4" y2="491.8" stroke="#484848" stroke-width="1.1" stroke-linecap="butt"/>
<line x1="69.8" y1="478.1" x2="71.8" y2="478.1" stroke="#484848" stroke-width="1.1" stroke-linecap="butt"/>
<line x1="373.4" y1="478.1" x2="371.4" y2="478.1" stroke="#484848" stroke-width="1.1" stroke-linecap="butt"/>
<line x1="69.8" y1="464.5" x2="75.3" y2="464.5" stroke="#484848" stroke-width="1.1" stroke-linecap="butt"/>
<line x1="373.4" y1="464.5" x2="367.9" y2="464.5" stroke="#484848" stroke-width="1.1" stroke-linecap="butt"/>
<line x1="69.8" y1="450.9" x2="71.8" y2="450.9" stroke="#484848" stroke-width="1.1" stroke-linecap="butt"/>
<line x1="373.4" y1="450.9" x2="371.4" y2="450.9" stroke="#484848" stroke-width="1.1" stroke-linecap="butt"/>
<line x1="69.8" y1="437.2" x2="71.8" y2="437.2" stroke="#484848" stroke-width="1.1" stroke-linecap="butt"/>
<line x1="373.4" y1="437.2" x2="371.4" y2="437.2" stroke="#484848" stroke-width="1.1" stroke-linecap="butt"/>
<line x1="69.8" y1="423.6" x2="71.8" y2="423.6" stroke="#484848" stroke-width="1.1" stroke-linecap="butt"/>
<line x1="373.4" y1="423.6" x2="371.4" y2="423.6" stroke="#484848" stroke-width="1.1" stroke-linecap="butt"/>
<line x1="69.8" y1="410.0" x2="75.3" y2="410.0" stroke="#484848" stroke-width="1.1" stroke-linecap="butt"/>
<line x1="373.4" y1="410.0" x2="367.9" y2="410.0" stroke="#484848" stroke-width="1.1" stroke-linecap="butt"/>
<rect x="69.8" y="397.2" width="303.6" height="285.3" fill="none" stroke="#484848" stroke-width="1.3"/>
<text x="61.4" y="684.3" font-size="14" font-weight="normal" text-anchor="end" fill="#222" textLength="7.8" lengthAdjust="spacingAndGlyphs">0</text>
<text x="61.4" y="629.8" font-size="14" font-weight="normal" text-anchor="end" fill="#222" textLength="15.6" lengthAdjust="spacingAndGlyphs">20</text>
<text x="61.4" y="575.3" font-size="14" font-weight="normal" text-anchor="end" fill="#222" textLength="15.6" lengthAdjust="spacingAndGlyphs">40</text>
<text x="61.4" y="520.8" font-size="14" font-weight="normal" text-anchor="end" fill="#222" textLength="15.6" lengthAdjust="spacingAndGlyphs">60</text>
<text x="61.4" y="466.3" font-size="14" font-weight="normal" text-anchor="end" fill="#222" textLength="15.6" lengthAdjust="spacingAndGlyphs">80</text>
<text x="61.4" y="411.8" font-size="14" font-weight="normal" text-anchor="end" fill="#222" textLength="23.4" lengthAdjust="spacingAndGlyphs">100</text>
<text x="68.5" y="700.4" font-size="13.5" font-weight="bold" text-anchor="middle" fill="#111" textLength="7.8" lengthAdjust="spacingAndGlyphs" stroke="#111" stroke-width="0.35">0</text>
<text x="123.5" y="700.4" font-size="13.5" font-weight="bold" text-anchor="middle" fill="#111" textLength="15.5" lengthAdjust="spacingAndGlyphs" stroke="#111" stroke-width="0.35">20</text>
<text x="178.4" y="700.4" font-size="13.5" font-weight="bold" text-anchor="middle" fill="#111" textLength="15.5" lengthAdjust="spacingAndGlyphs" stroke="#111" stroke-width="0.35">40</text>
<text x="233.3" y="700.4" font-size="13.5" font-weight="bold" text-anchor="middle" fill="#111" textLength="15.5" lengthAdjust="spacingAndGlyphs" stroke="#111" stroke-width="0.35">60</text>
<text x="288.3" y="700.4" font-size="13.5" font-weight="bold" text-anchor="middle" fill="#111" textLength="15.5" lengthAdjust="spacingAndGlyphs" stroke="#111" stroke-width="0.35">80</text>
<text x="343.2" y="700.4" font-size="13.5" font-weight="bold" text-anchor="middle" fill="#111" textLength="23.2" lengthAdjust="spacingAndGlyphs" stroke="#111" stroke-width="0.35">100</text>
<text x="126.5" y="722.4" font-size="14" font-weight="bold" text-anchor="start" fill="#111" textLength="184.7" lengthAdjust="spacingAndGlyphs" stroke="#111" stroke-width="0.35">days post-tumor injection</text>
<text x="30.3" y="603.5" font-size="13.5" font-weight="bold" text-anchor="start" fill="#111" textLength="115.0" lengthAdjust="spacingAndGlyphs" transform="rotate(-90 30.3 603.5)" stroke="#111" stroke-width="0.35">% mice surviving</text>
<text x="18.6" y="388.6" font-size="31.5" font-weight="bold" text-anchor="start" fill="#111" textLength="20.2" lengthAdjust="spacingAndGlyphs" stroke="#111" stroke-width="0.35">C</text>
<line x1="70.5" y1="410.0" x2="172.2" y2="410.0" stroke="#444" stroke-width="1.3" stroke-linecap="butt"/>
<polyline points="133.7,410.0 133.7,410.0 133.7,437.2 139.2,437.2 139.2,464.5 141.9,464.5 141.9,491.8 147.4,491.8 147.4,519.0 158.4,519.0 158.4,546.2 163.9,546.2 163.9,573.5 166.7,573.5 166.7,600.8 202.4,600.8 202.4,628.0 216.1,628.0 216.1,655.2 227.1,655.2 227.1,682.5" fill="none" stroke="#444" stroke-width="1.3"/>
<polyline points="172.2,410.0 202.4,410.0 202.4,434.5 345.2,434.5" fill="none" stroke="#444" stroke-width="1.3" stroke-dasharray="3.5,2.8"/>
<polyline points="172.2,410.0 172.2,410.0 172.2,478.1 216.1,478.1 216.1,546.2 224.4,546.2 224.4,614.4 345.2,614.4" fill="none" stroke="#444" stroke-width="1.3" stroke-dasharray="5,2,1.5,2"/>
<polyline points="133.7,410.0 133.7,410.0 133.7,464.5 139.2,464.5 139.2,519.0 141.9,519.0 141.9,573.5 202.4,573.5 202.4,628.0 216.1,628.0 216.1,682.5" fill="none" stroke="#333" stroke-width="1.1" stroke-dasharray="1,1.6"/>
<polyline points="172.2,410.0 188.6,410.0 188.6,478.1 196.9,478.1 196.9,546.2 212.0,546.2 212.0,614.4 345.2,614.4" fill="none" stroke="#444" stroke-width="1.3" stroke-dasharray="1.5,1.5"/>
<polyline points="172.2,410.0 183.1,410.0 183.1,478.1 194.1,478.1 194.1,546.2 213.4,546.2 213.4,614.4 218.9,614.4 218.9,682.5" fill="none" stroke="#444" stroke-width="1.4" stroke-dasharray="15,5,1.5,5"/>
<text x="268.1" y="460.3" font-size="13" font-weight="bold" text-anchor="start" fill="#111" textLength="89.2" lengthAdjust="spacingAndGlyphs" stroke="#111" stroke-width="0.35">P815 control</text>
<text x="268.1" y="474.0" font-size="13" font-weight="bold" text-anchor="start" fill="#111" textLength="73.5" lengthAdjust="spacingAndGlyphs" stroke="#111" stroke-width="0.35">P815 cure;</text>
<text x="268.1" y="488.3" font-size="13" font-weight="bold" text-anchor="start" fill="#111" textLength="68.2" lengthAdjust="spacingAndGlyphs" stroke="#111" stroke-width="0.35">P815 rech</text>
<text x="268.1" y="501.7" font-size="13" font-weight="bold" text-anchor="start" fill="#111" textLength="73.5" lengthAdjust="spacingAndGlyphs" stroke="#111" stroke-width="0.35">P815 cure;</text>
<text x="268.1" y="516.0" font-size="13" font-weight="bold" text-anchor="start" fill="#111" textLength="84.4" lengthAdjust="spacingAndGlyphs" stroke="#111" stroke-width="0.35">P 1.204 rech</text>
<text x="268.1" y="529.6" font-size="13" font-weight="bold" text-anchor="start" fill="#111" textLength="101.2" lengthAdjust="spacingAndGlyphs" stroke="#111" stroke-width="0.35">P1.204 control</text>
<text x="268.1" y="543.3" font-size="13" font-weight="bold" text-anchor="start" fill="#111" textLength="85.4" lengthAdjust="spacingAndGlyphs" stroke="#111" stroke-width="0.35">P1.204 cure;</text>
<text x="268.1" y="556.9" font-size="13" font-weight="bold" text-anchor="start" fill="#111" textLength="80.2" lengthAdjust="spacingAndGlyphs" stroke="#111" stroke-width="0.35">P1.204 rech</text>
<text x="268.1" y="570.6" font-size="13" font-weight="bold" text-anchor="start" fill="#111" textLength="85.4" lengthAdjust="spacingAndGlyphs" stroke="#111" stroke-width="0.35">P1.204 cure;</text>
<text x="268.1" y="584.3" font-size="13" font-weight="bold" text-anchor="start" fill="#111" textLength="68.2" lengthAdjust="spacingAndGlyphs" stroke="#111" stroke-width="0.35">P815 rech</text>
<line x1="238.6" y1="455.7" x2="266.0" y2="455.7" stroke="#444" stroke-width="1.3" stroke-linecap="butt"/>
<line x1="238.6" y1="469.4" x2="266.0" y2="469.4" stroke="#444" stroke-width="1.3" stroke-dasharray="3.5,2.8" stroke-linecap="butt"/>
<line x1="238.6" y1="497.1" x2="266.0" y2="497.1" stroke="#444" stroke-width="1.3" stroke-dasharray="3.5,2,1.2,2" stroke-linecap="butt"/>
<line x1="238.6" y1="525.0" x2="266.0" y2="525.0" stroke="#444" stroke-width="1.3" stroke-dasharray="1,1.6" stroke-linecap="butt"/>
<line x1="238.6" y1="538.7" x2="266.0" y2="538.7" stroke="#444" stroke-width="1.3" stroke-dasharray="1.5,1.5" stroke-linecap="butt"/>
<line x1="238.6" y1="566.0" x2="266.0" y2="566.0" stroke="#444" stroke-width="1.3" stroke-dasharray="15,9,1.5,9" stroke-linecap="butt"/>
<line x1="525.0" y1="630.6" x2="525.0" y2="625.6" stroke="#484848" stroke-width="1.2" stroke-linecap="butt"/>
<line x1="525.0" y1="430.0" x2="525.0" y2="435.0" stroke="#484848" stroke-width="1.2" stroke-linecap="butt"/>
<line x1="601.3" y1="630.6" x2="601.3" y2="625.6" stroke="#484848" stroke-width="1.2" stroke-linecap="butt"/>
<line x1="601.3" y1="430.0" x2="601.3" y2="435.0" stroke="#484848" stroke-width="1.2" stroke-linecap="butt"/>
<line x1="677.2" y1="630.6" x2="677.2" y2="625.6" stroke="#484848" stroke-width="1.2" stroke-linecap="butt"/>
<line x1="677.2" y1="430.0" x2="677.2" y2="435.0" stroke="#484848" stroke-width="1.2" stroke-linecap="butt"/>
<line x1="449.6" y1="622.6" x2="452.1" y2="622.6" stroke="#484848" stroke-width="1.0" stroke-linecap="butt"/>
<line x1="752.5" y1="622.6" x2="750.0" y2="622.6" stroke="#484848" stroke-width="1.0" stroke-linecap="butt"/>
<line x1="449.6" y1="614.6" x2="452.1" y2="614.6" stroke="#484848" stroke-width="1.0" stroke-linecap="butt"/>
<line x1="752.5" y1="614.6" x2="750.0" y2="614.6" stroke="#484848" stroke-width="1.0" stroke-linecap="butt"/>
<line x1="449.6" y1="606.6" x2="452.1" y2="606.6" stroke="#484848" stroke-width="1.0" stroke-linecap="butt"/>
<line x1="752.5" y1="606.6" x2="750.0" y2="606.6" stroke="#484848" stroke-width="1.0" stroke-linecap="butt"/>
<line x1="449.6" y1="598.6" x2="454.6" y2="598.6" stroke="#484848" stroke-width="1.0" stroke-linecap="butt"/>
<line x1="752.5" y1="598.6" x2="747.5" y2="598.6" stroke="#484848" stroke-width="1.0" stroke-linecap="butt"/>
<line x1="449.6" y1="590.6" x2="452.1" y2="590.6" stroke="#484848" stroke-width="1.0" stroke-linecap="butt"/>
<line x1="752.5" y1="590.6" x2="750.0" y2="590.6" stroke="#484848" stroke-width="1.0" stroke-linecap="butt"/>
<line x1="449.6" y1="582.6" x2="452.1" y2="582.6" stroke="#484848" stroke-width="1.0" stroke-linecap="butt"/>
<line x1="752.5" y1="582.6" x2="750.0" y2="582.6" stroke="#484848" stroke-width="1.0" stroke-linecap="butt"/>
<line x1="449.6" y1="574.6" x2="452.1" y2="574.6" stroke="#484848" stroke-width="1.0" stroke-linecap="butt"/>
<line x1="752.5" y1="574.6" x2="750.0" y2="574.6" stroke="#484848" stroke-width="1.0" stroke-linecap="butt"/>
<line x1="449.6" y1="566.6" x2="454.6" y2="566.6" stroke="#484848" stroke-width="1.0" stroke-linecap="butt"/>
<line x1="752.5" y1="566.6" x2="747.5" y2="566.6" stroke="#484848" stroke-width="1.0" stroke-linecap="butt"/>
<line x1="449.6" y1="558.6" x2="452.1" y2="558.6" stroke="#484848" stroke-width="1.0" stroke-linecap="butt"/>
<line x1="752.5" y1="558.6" x2="750.0" y2="558.6" stroke="#484848" stroke-width="1.0" stroke-linecap="butt"/>
<line x1="449.6" y1="550.6" x2="452.1" y2="550.6" stroke="#484848" stroke-width="1.0" stroke-linecap="butt"/>
<line x1="752.5" y1="550.6" x2="750.0" y2="550.6" stroke="#484848" stroke-width="1.0" stroke-linecap="butt"/>
<line x1="449.6" y1="542.6" x2="452.1" y2="542.6" stroke="#484848" stroke-width="1.0" stroke-linecap="butt"/>
<line x1="752.5" y1="542.6" x2="750.0" y2="542.6" stroke="#484848" stroke-width="1.0" stroke-linecap="butt"/>
<line x1="449.6" y1="534.6" x2="454.6" y2="534.6" stroke="#484848" stroke-width="1.0" stroke-linecap="butt"/>
<line x1="752.5" y1="534.6" x2="747.5" y2="534.6" stroke="#484848" stroke-width="1.0" stroke-linecap="butt"/>
<line x1="449.6" y1="526.6" x2="452.1" y2="526.6" stroke="#484848" stroke-width="1.0" stroke-linecap="butt"/>
<line x1="752.5" y1="526.6" x2="750.0" y2="526.6" stroke="#484848" stroke-width="1.0" stroke-linecap="butt"/>
<line x1="449.6" y1="518.6" x2="452.1" y2="518.6" stroke="#484848" stroke-width="1.0" stroke-linecap="butt"/>
<line x1="752.5" y1="518.6" x2="750.0" y2="518.6" stroke="#484848" stroke-width="1.0" stroke-linecap="butt"/>
<line x1="449.6" y1="510.6" x2="452.1" y2="510.6" stroke="#484848" stroke-width="1.0" stroke-linecap="butt"/>
<line x1="752.5" y1="510.6" x2="750.0" y2="510.6" stroke="#484848" stroke-width="1.0" stroke-linecap="butt"/>
<line x1="449.6" y1="502.6" x2="454.6" y2="502.6" stroke="#484848" stroke-width="1.0" stroke-linecap="butt"/>
<line x1="752.5" y1="502.6" x2="747.5" y2="502.6" stroke="#484848" stroke-width="1.0" stroke-linecap="butt"/>
<line x1="449.6" y1="494.6" x2="452.1" y2="494.6" stroke="#484848" stroke-width="1.0" stroke-linecap="butt"/>
<line x1="752.5" y1="494.6" x2="750.0" y2="494.6" stroke="#484848" stroke-width="1.0" stroke-linecap="butt"/>
<line x1="449.6" y1="486.6" x2="452.1" y2="486.6" stroke="#484848" stroke-width="1.0" stroke-linecap="butt"/>
<line x1="752.5" y1="486.6" x2="750.0" y2="486.6" stroke="#484848" stroke-width="1.0" stroke-linecap="butt"/>
<line x1="449.6" y1="478.6" x2="452.1" y2="478.6" stroke="#484848" stroke-width="1.0" stroke-linecap="butt"/>
<line x1="752.5" y1="478.6" x2="750.0" y2="478.6" stroke="#484848" stroke-width="1.0" stroke-linecap="butt"/>
<line x1="449.6" y1="470.6" x2="454.6" y2="470.6" stroke="#484848" stroke-width="1.0" stroke-linecap="butt"/>
<line x1="752.5" y1="470.6" x2="747.5" y2="470.6" stroke="#484848" stroke-width="1.0" stroke-linecap="butt"/>
<line x1="449.6" y1="462.6" x2="452.1" y2="462.6" stroke="#484848" stroke-width="1.0" stroke-linecap="butt"/>
<line x1="752.5" y1="462.6" x2="750.0" y2="462.6" stroke="#484848" stroke-width="1.0" stroke-linecap="butt"/>
<line x1="449.6" y1="454.6" x2="452.1" y2="454.6" stroke="#484848" stroke-width="1.0" stroke-linecap="butt"/>
<line x1="752.5" y1="454.6" x2="750.0" y2="454.6" stroke="#484848" stroke-width="1.0" stroke-linecap="butt"/>
<line x1="449.6" y1="446.6" x2="452.1" y2="446.6" stroke="#484848" stroke-width="1.0" stroke-linecap="butt"/>
<line x1="752.5" y1="446.6" x2="750.0" y2="446.6" stroke="#484848" stroke-width="1.0" stroke-linecap="butt"/>
<line x1="449.6" y1="438.6" x2="454.6" y2="438.6" stroke="#484848" stroke-width="1.0" stroke-linecap="butt"/>
<line x1="752.5" y1="438.6" x2="747.5" y2="438.6" stroke="#484848" stroke-width="1.0" stroke-linecap="butt"/>
<rect x="456.6" y="482.8" width="61.4" height="147.8" fill="#000" stroke="none" stroke-width="1"/>
<rect x="532.3" y="590.3" width="60.7" height="40.3" fill="#000" stroke="none" stroke-width="1"/>
<rect x="608.5" y="590.3" width="60.7" height="40.3" fill="#000" stroke="none" stroke-width="1"/>
<line x1="684.0" y1="630.0" x2="744.3" y2="630.0" stroke="#111" stroke-width="1.6" stroke-linecap="butt"/>
<rect x="449.6" y="430.0" width="302.9" height="200.6" fill="none" stroke="#444" stroke-width="1.2"/>
<text x="441.6" y="633.3" font-size="13.4" font-weight="bold" text-anchor="end" fill="#111" textLength="7.1" lengthAdjust="spacingAndGlyphs" stroke="#111" stroke-width="0.35">0</text>
<text x="441.6" y="601.1" font-size="13.4" font-weight="bold" text-anchor="end" fill="#111" textLength="14.2" lengthAdjust="spacingAndGlyphs" stroke="#111" stroke-width="0.35">20</text>
<text x="441.6" y="568.9" font-size="13.4" font-weight="bold" text-anchor="end" fill="#111" textLength="14.2" lengthAdjust="spacingAndGlyphs" stroke="#111" stroke-width="0.35">40</text>
<text x="441.6" y="536.6" font-size="13.4" font-weight="bold" text-anchor="end" fill="#111" textLength="14.2" lengthAdjust="spacingAndGlyphs" stroke="#111" stroke-width="0.35">60</text>
<text x="441.6" y="504.4" font-size="13.4" font-weight="bold" text-anchor="end" fill="#111" textLength="14.2" lengthAdjust="spacingAndGlyphs" stroke="#111" stroke-width="0.35">80</text>
<text x="441.6" y="472.2" font-size="13.4" font-weight="bold" text-anchor="end" fill="#111" textLength="21.3" lengthAdjust="spacingAndGlyphs" stroke="#111" stroke-width="0.35">100</text>
<text x="441.6" y="440.0" font-size="13.4" font-weight="bold" text-anchor="end" fill="#111" textLength="21.3" lengthAdjust="spacingAndGlyphs" stroke="#111" stroke-width="0.35">120</text>
<polyline points="493.8,465.0 493.8,449.6 604.6,449.6 604.6,469.8" fill="none" stroke="#555" stroke-width="1.2"/>
<line x1="563.2" y1="469.8" x2="710.2" y2="469.8" stroke="#555" stroke-width="1.2" stroke-linecap="butt"/>
<line x1="563.2" y1="469.8" x2="563.2" y2="546.2" stroke="#555" stroke-width="1.2" stroke-linecap="butt"/>
<line x1="631.1" y1="469.8" x2="631.1" y2="546.2" stroke="#555" stroke-width="1.2" stroke-linecap="butt"/>
<line x1="710.2" y1="469.8" x2="710.2" y2="555.2" stroke="#555" stroke-width="1.2" stroke-linecap="butt"/>
<text x="536.1" y="578.4" font-size="9.9" font-weight="bold" text-anchor="start" fill="#111" textLength="38.5" lengthAdjust="spacingAndGlyphs" stroke="#111" stroke-width="0.2">p=0.032</text>
<text x="615.4" y="570.2" font-size="9.9" font-weight="bold" text-anchor="start" fill="#111" textLength="38.6" lengthAdjust="spacingAndGlyphs" stroke="#111" stroke-width="0.2">p=0.032</text>
<text x="694.5" y="593.0" font-size="9.9" font-weight="bold" text-anchor="start" fill="#111" textLength="38.0" lengthAdjust="spacingAndGlyphs" stroke="#111" stroke-width="0.2">p=0.011</text>
<text x="467.0" y="652.5" font-size="10.4" font-weight="bold" text-anchor="start" fill="#111" textLength="51.0" lengthAdjust="spacingAndGlyphs" stroke="#111" stroke-width="0.2">P815 cure</text>
<text x="464.6" y="663.0" font-size="10.4" font-weight="bold" text-anchor="start" fill="#111" textLength="58.8" lengthAdjust="spacingAndGlyphs" stroke="#111" stroke-width="0.2">P815 recha</text>
<text x="541.8" y="652.5" font-size="10.4" font-weight="bold" text-anchor="start" fill="#111" textLength="50.8" lengthAdjust="spacingAndGlyphs" stroke="#111" stroke-width="0.2">P815 cure</text>
<text x="541.8" y="663.0" font-size="10.4" font-weight="bold" text-anchor="start" fill="#111" textLength="53.8" lengthAdjust="spacingAndGlyphs" stroke="#111" stroke-width="0.2">P1.204 rec</text>
<text x="613.3" y="652.5" font-size="10.4" font-weight="bold" text-anchor="start" fill="#111" textLength="60.2" lengthAdjust="spacingAndGlyphs" stroke="#111" stroke-width="0.2">P1.204 cure</text>
<text x="617.2" y="663.0" font-size="10.4" font-weight="bold" text-anchor="start" fill="#111" textLength="54.3" lengthAdjust="spacingAndGlyphs" stroke="#111" stroke-width="0.2">P1.204 rec</text>
<text x="689.3" y="652.5" font-size="10.4" font-weight="bold" text-anchor="start" fill="#111" textLength="59.0" lengthAdjust="spacingAndGlyphs" stroke="#111" stroke-width="0.2">P1.204 cure</text>
<text x="698.3" y="663.0" font-size="10.4" font-weight="bold" text-anchor="start" fill="#111" textLength="43.3" lengthAdjust="spacingAndGlyphs" stroke="#111" stroke-width="0.2">P815 rec</text>
<text x="412.0" y="607.0" font-size="9.5" font-weight="bold" text-anchor="start" fill="#111" textLength="119.7" lengthAdjust="spacingAndGlyphs" transform="rotate(-90 412.0 607.0)" stroke="#111" stroke-width="0.2">% rejecting rechallenge</text>
<text x="412.2" y="393.2" font-size="31.5" font-weight="bold" text-anchor="start" fill="#111" textLength="20.5" lengthAdjust="spacingAndGlyphs" stroke="#111" stroke-width="0.35">D</text>
</svg>
</body></html>
